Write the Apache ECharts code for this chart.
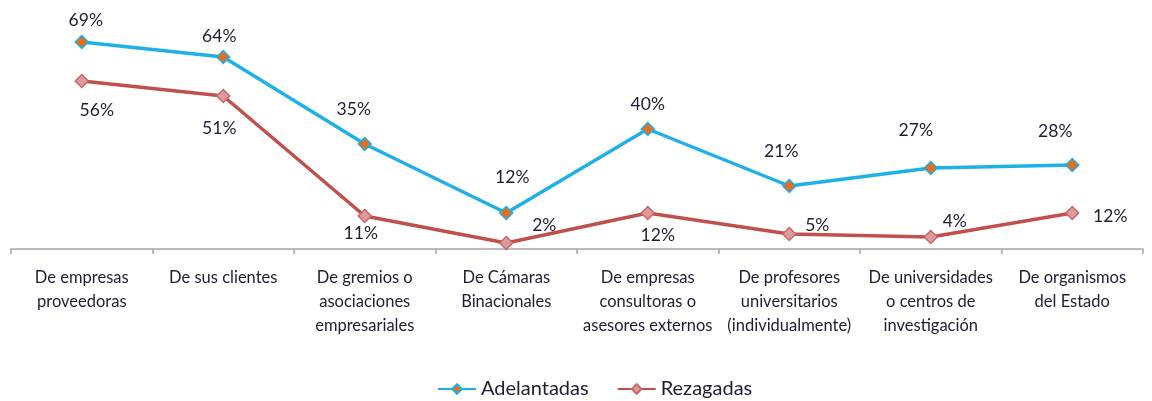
<!DOCTYPE html>
<html>
<head>
<meta charset="utf-8">
<script src="https://cdn.jsdelivr.net/npm/echarts@6/dist/echarts.min.js"></script>
<style>
  html, body { margin: 0; padding: 0; background: #fff; }
  #chart { width: 1152px; height: 401px; }
</style>
</head>
<body>
<div id="chart"></div>
<script>
const categories = [
  'De empresas\nproveedoras',
  'De sus clientes',
  'De gremios o\nasociaciones\nempresariales',
  'De Cámaras\nBinacionales',
  'De empresas\nconsultoras o\nasesores externos',
  'De profesores\nuniversitarios\n(individualmente)',
  'De universidades\no centros de\ninvestigación',
  'De organismos\ndel Estado'
];
const adelantadas = [69, 64, 35, 12, 40, 21, 27, 28];
const rezagadas = [56, 51, 11, 2, 12, 5, 4, 12];

// label placement, label centre relative to the marker
const adelantadasLabelOffsets = [[4, -22], [-4, -21], [-11, -35], [6, -36], [0, -25], [-8, -35], [-15, -38], [-17, -34]];
const rezagadasLabelOffsets = [[15, 29], [-4, 32], [-4, 17], [38, -18], [10, 22], [28, -9], [24, -16], [38, 3]];

const textColor = '#1d1d33';
const font = 'Lato, "Open Sans", sans-serif';

function withLabels(values, offsets) {
  return values.map((v, i) => ({
    value: v,
    label: { offset: offsets[i] }
  }));
}

const chart = echarts.init(document.getElementById('chart'));
chart.setOption({
  animation: false,
  grid: { left: 11, right: 9, top: 9, bottom: 152 },
  legend: {
    bottom: -3,
    left: 432,
    itemWidth: 38,
    itemHeight: 12,
    itemGap: 28,
    textStyle: { fontFamily: font, fontSize: 20, color: textColor }
  },
  xAxis: {
    type: 'category',
    data: categories,
    boundaryGap: true,
    axisLine: { lineStyle: { color: '#a6a6a6', width: 1.5 } },
    axisTick: { show: true, length: 5, interval: 0, lineStyle: { color: '#a6a6a6', width: 1.5 } },
    axisLabel: {
      interval: 0,
      margin: 17,
      fontFamily: font,
      fontSize: 16.5,
      lineHeight: 24,
      color: textColor
    }
  },
  yAxis: {
    type: 'value',
    min: 0,
    max: 80,
    show: false,
    splitLine: { show: false }
  },
  series: [
    {
      name: 'Adelantadas',
      type: 'line',
      data: withLabels(adelantadas, adelantadasLabelOffsets),
      symbol: 'diamond',
      symbolSize: 13,
      lineStyle: { color: '#1fb0e8', width: 3.5 },
      itemStyle: { color: '#e2701e', borderColor: '#1fb0e8', borderWidth: 1.5 },
      label: {
        show: true,
        position: 'inside',
        formatter: '{c}%',
        fontFamily: font,
        fontSize: 17.5,
        color: textColor
      }
    },
    {
      name: 'Rezagadas',
      type: 'line',
      data: withLabels(rezagadas, rezagadasLabelOffsets),
      symbol: 'diamond',
      symbolSize: 13,
      lineStyle: { color: '#c0504d', width: 3.5 },
      itemStyle: { color: '#dc9a9c', borderColor: '#c9676a', borderWidth: 1.5 },
      label: {
        show: true,
        position: 'inside',
        formatter: '{c}%',
        fontFamily: font,
        fontSize: 17.5,
        color: textColor
      }
    }
  ]
});
</script>
</body>
</html>
